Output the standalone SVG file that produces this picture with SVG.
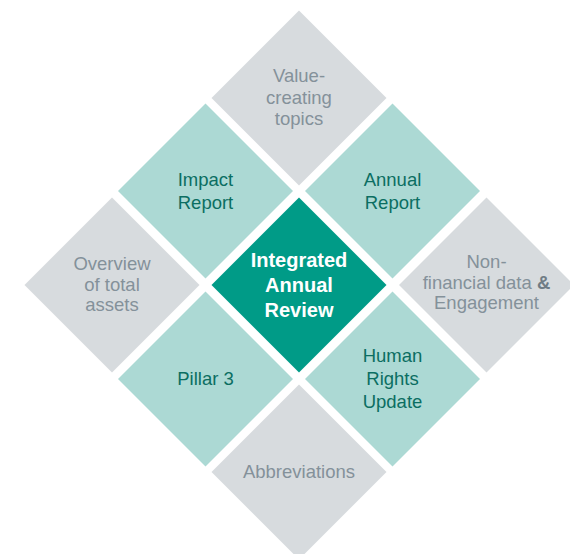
<svg xmlns="http://www.w3.org/2000/svg" xmlns:xlink="http://www.w3.org/1999/xlink" width="570" height="554" viewBox="0 0 570 554">
<defs>
<path id="dia" d="M0,-87.5 L87.5,0 L0,87.5 L-87.5,0 Z"/>
<style>
.gray{fill:#d7dbde}
.lt{fill:#acd9d4}
.dk{fill:#009b87}
text{font-family:"Liberation Sans",Arial,sans-serif;font-size:18.5px;text-anchor:middle}
.tg{fill:#84919a}
.tt{fill:#0b6e62}
.tw{fill:#ffffff;font-weight:bold;font-size:20px}
.amp{font-weight:bold;fill:#6f7c85}
</style>
</defs>
<rect width="570" height="554" fill="#ffffff"/>
<g id="connectors"/>
<g id="value-creating">
<use xlink:href="#dia" x="299" y="98" class="gray"/>
<text class="tg" x="299" y="82">Value-</text>
<text class="tg" x="299" y="104">creating</text>
<text class="tg" x="299" y="125">topics</text>
</g>
<g id="impact-report">
<use xlink:href="#dia" x="205.5" y="191" class="lt"/>
<text class="tt" x="205.5" y="186">Impact</text>
<text class="tt" x="205.5" y="209">Report</text>
</g>
<g id="annual-report">
<use xlink:href="#dia" x="392.5" y="191" class="lt"/>
<text class="tt" x="392.5" y="186">Annual</text>
<text class="tt" x="392.5" y="209">Report</text>
</g>
<g id="overview">
<use xlink:href="#dia" x="112" y="285" class="gray"/>
<text class="tg" x="112" y="270">Overview</text>
<text class="tg" x="112" y="291">of total</text>
<text class="tg" x="112" y="311">assets</text>
</g>
<g id="integrated">
<use xlink:href="#dia" x="299" y="285" class="dk"/>
<text class="tw" x="299" y="267">Integrated</text>
<text class="tw" x="299" y="292">Annual</text>
<text class="tw" x="299" y="317">Review</text>
</g>
<g id="non-financial">
<use xlink:href="#dia" x="486.5" y="285" class="gray"/>
<text class="tg" x="486.5" y="268">Non-</text>
<text class="tg" x="486.5" y="289">financial data <tspan class="amp">&amp;</tspan></text>
<text class="tg" x="486.5" y="309">Engagement</text>
</g>
<g id="pillar-3">
<use xlink:href="#dia" x="205.5" y="379" class="lt"/>
<text class="tt" x="205.5" y="385">Pillar 3</text>
</g>
<g id="human-rights">
<use xlink:href="#dia" x="392.5" y="379" class="lt"/>
<text class="tt" x="392.5" y="362">Human</text>
<text class="tt" x="392.5" y="385">Rights</text>
<text class="tt" x="392.5" y="408">Update</text>
</g>
<g id="abbreviations">
<use xlink:href="#dia" x="299" y="472" class="gray"/>
<text class="tg" x="299" y="478">Abbreviations</text>
</g>
</svg>
